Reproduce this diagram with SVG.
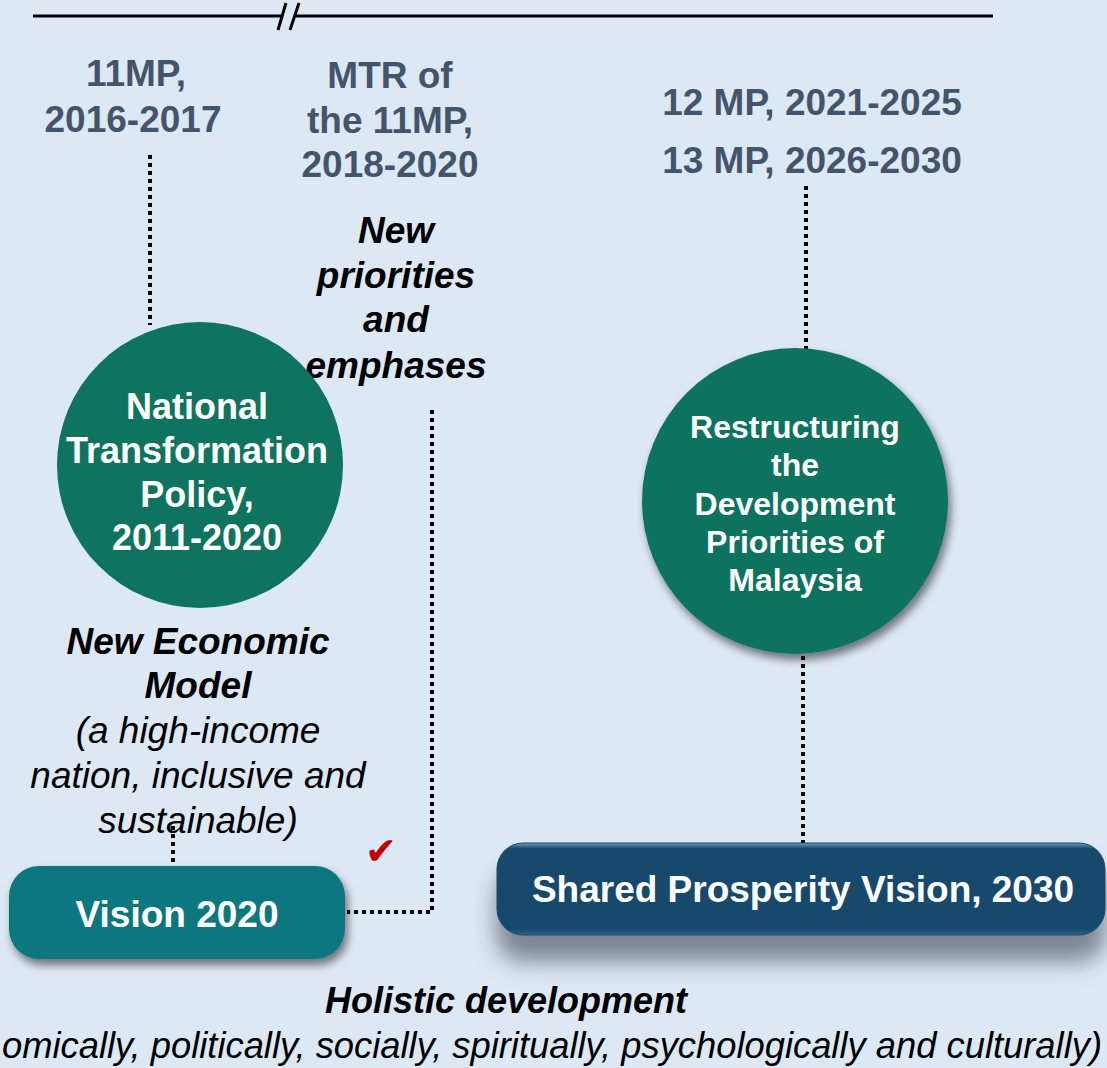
<svg xmlns="http://www.w3.org/2000/svg" width="1107" height="1068" viewBox="0 0 1107 1068">
<defs>
<style>
.lbl{font-family:"Liberation Sans",Arial,sans-serif;font-weight:bold;fill:#44546A;font-size:37px;text-anchor:middle}
.wt{font-family:"Liberation Sans",Arial,sans-serif;font-weight:bold;fill:#fff;text-anchor:middle}
.bi{font-family:"Liberation Sans",Arial,sans-serif;font-weight:bold;font-style:italic;fill:#000;text-anchor:middle}
.it{font-family:"Liberation Sans",Arial,sans-serif;font-style:italic;fill:#000;text-anchor:middle}
.dot{fill:none;stroke:#000;stroke-width:4;stroke-dasharray:4 4}
</style>
<filter id="sh1" x="-20%" y="-20%" width="140%" height="160%">
<feGaussianBlur in="SourceAlpha" stdDeviation="4"/>
<feOffset dx="3" dy="6" result="b"/>
<feFlood flood-color="#000" flood-opacity="0.5"/>
<feComposite in2="b" operator="in"/>
<feMerge><feMergeNode/><feMergeNode in="SourceGraphic"/></feMerge>
</filter>
<filter id="sh2" x="-20%" y="-30%" width="140%" height="200%">
<feGaussianBlur in="SourceAlpha" stdDeviation="11"/>
<feOffset dx="0" dy="26" result="b"/>
<feFlood flood-color="#3a4550" flood-opacity="0.6"/>
<feComposite in2="b" operator="in"/>
<feMerge><feMergeNode/><feMergeNode in="SourceGraphic"/></feMerge>
</filter>
<linearGradient id="bev" x1="0" y1="0" x2="0" y2="1">
<stop offset="0" stop-color="#6e9cc0"/>
<stop offset="0.06" stop-color="#174a6c"/>
<stop offset="0.94" stop-color="#174a6c"/>
<stop offset="1" stop-color="#2d6288"/>
</linearGradient>
</defs>
<rect width="1107" height="1068" fill="#DCE8F4"/>

<g id="timeline">
<line x1="33" y1="16" x2="282" y2="16" stroke="#000" stroke-width="3"/>
<line x1="296" y1="16" x2="993" y2="16" stroke="#000" stroke-width="3"/>
<line x1="278" y1="30" x2="286" y2="3" stroke="#000" stroke-width="3"/>
<line x1="290" y1="30" x2="299" y2="3" stroke="#000" stroke-width="3"/>
</g>

<g id="connectors">
<path class="dot" d="M150 155 V325"/>
<path class="dot" d="M432 410 V912 H347"/>
<path class="dot" d="M806 186 V350"/>
<path class="dot" d="M803 656 V843"/>
<path class="dot" d="M173 826 V866"/>
</g>

<g id="label-11mp">
<text class="lbl" x="136" y="86">11MP,</text>
<text class="lbl" x="133" y="132">2016-2017</text>
</g>
<g id="label-mtr">
<text class="lbl" x="390" y="88">MTR of</text>
<text class="lbl" x="390" y="133">the 11MP,</text>
<text class="lbl" x="390" y="177">2018-2020</text>
</g>
<g id="label-12-13mp">
<text class="lbl" x="812" y="115">12 MP, 2021-2025</text>
<text class="lbl" x="812" y="173">13 MP, 2026-2030</text>
</g>
<g id="label-priorities">
<text class="bi" font-size="37" x="396" y="243">New</text>
<text class="bi" font-size="37" x="396" y="288">priorities</text>
<text class="bi" font-size="37" x="396" y="332">and</text>
<text class="bi" font-size="37" x="396" y="378">emphases</text>
</g>

<g id="ntp">
<circle cx="200" cy="465" r="143" fill="#0E735F"/>
<text class="wt" font-size="36" x="197" y="419">National</text>
<text class="wt" font-size="36" x="197" y="463">Transformation</text>
<text class="wt" font-size="36" x="197" y="507">Policy,</text>
<text class="wt" font-size="36" x="197" y="550">2011-2020</text>
</g>

<g id="nem">
<text class="bi" font-size="37" x="198" y="654">New Economic</text>
<text class="bi" font-size="37" x="198" y="698">Model</text>
<text class="it" font-size="37" x="198" y="743">(a high-income</text>
<text class="it" font-size="37" x="198" y="788">nation, inclusive and</text>
<text class="it" font-size="37" x="198" y="833">sustainable)</text>
</g>

<g id="restructuring">
<circle cx="795" cy="501" r="153" fill="#0E735F" filter="url(#sh1)"/>
<text class="wt" font-size="32" x="795" y="438">Restructuring</text>
<text class="wt" font-size="32" x="795" y="476">the</text>
<text class="wt" font-size="32" x="795" y="515">Development</text>
<text class="wt" font-size="32" x="795" y="553">Priorities of</text>
<text class="wt" font-size="32" x="795" y="591">Malaysia</text>
</g>

<g id="vision2020">
<rect x="9" y="866" width="336" height="93" rx="30" fill="#0C7780" filter="url(#sh1)"/>
<text class="wt" font-size="37" x="177" y="927">Vision 2020</text>
</g>

<g id="check">
<text x="381" y="864" font-family="DejaVu Sans,sans-serif" font-size="38" fill="#C00000" text-anchor="middle">✔</text>
</g>

<g id="spv2030">
<rect x="497" y="843" width="608" height="92" rx="26" fill="url(#bev)" stroke="#174a6c" stroke-width="1" filter="url(#sh2)"/>
<text class="wt" font-size="37" x="803" y="902">Shared Prosperity Vision, 2030</text>
</g>

<g id="holistic">
<text class="bi" font-size="36" x="506" y="1013">Holistic development</text>
<text class="it" font-size="36" x="2" y="1058" textLength="1100" lengthAdjust="spacingAndGlyphs" style="text-anchor:start">omically, politically, socially, spiritually, psychologically and culturally)</text>
</g>
</svg>
